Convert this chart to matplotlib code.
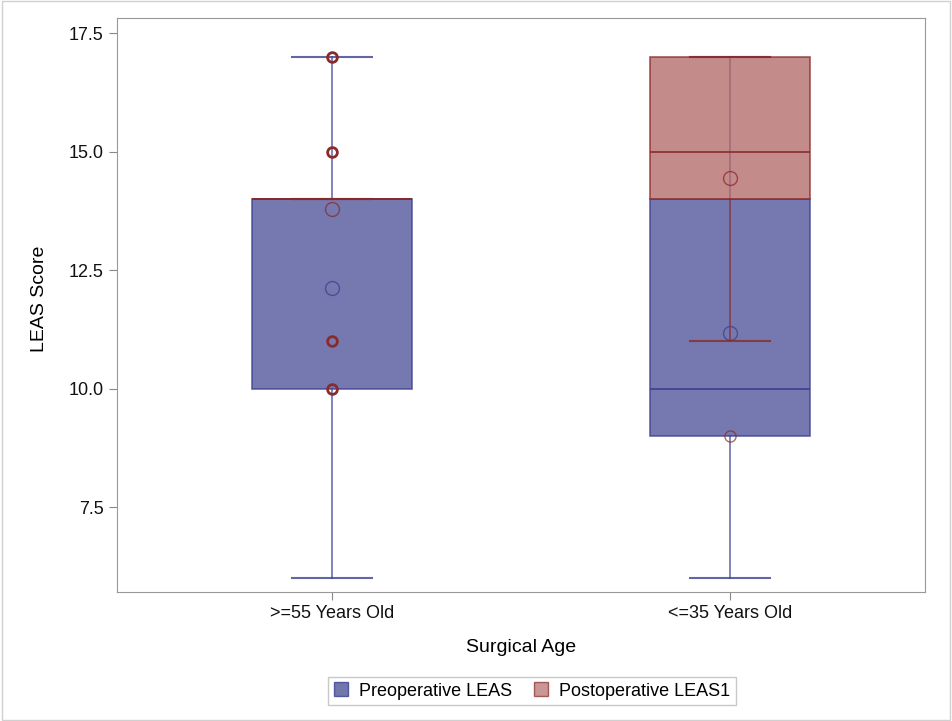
import matplotlib.pyplot as plt
from matplotlib.patches import Patch, Rectangle

plt.rcParams['font.family'] = ['Liberation Sans', 'DejaVu Sans']

groups = ['>=55 Years Old', '<=35 Years Old']

# preoperative LEAS box stats per group
pre_q1 = [10, 9]
pre_med = [14, 10]
pre_q3 = [14, 14]
pre_lo = [6, 6]
pre_hi = [17, 17]
pre_mean = [12.12, 11.18]
pre_fliers = [[], []]

# postoperative LEAS1 box stats per group
post_q1 = [14, 14]
post_med = [14, 15]
post_q3 = [14, 17]
post_lo = [14, 11]
post_hi = [14, 17]
post_mean = [13.8, 14.45]
post_fliers = [[17, 15, 11, 10], [9]]

blue_fill = '#4e5499'
blue_edge = '#3a4091'
red_fill = '#b46a6a'
red_edge = '#8a2a2a'

fig = plt.figure(figsize=(9.52, 7.21), dpi=100)
fig.patches.append(Rectangle((0.002, 0.002), 0.996, 0.996, transform=fig.transFigure,
                             fill=False, edgecolor='#d0d0d0', lw=1))
ax = fig.add_axes([117 / 952, 1 - 592 / 721, 808 / 952, 574 / 721])


def make_stats(q1, med, q3, lo, hi, mean, fl):
    out = []
    for i in range(len(groups)):
        out.append(dict(q1=q1[i], med=med[i], q3=q3[i], whislo=lo[i], whishi=hi[i],
                        mean=mean[i], fliers=fl[i]))
    return out


pos = [0, 1]
res = []
for stats, fc, ec, z in [
    (make_stats(pre_q1, pre_med, pre_q3, pre_lo, pre_hi, pre_mean, pre_fliers), blue_fill, blue_edge, 2),
    (make_stats(post_q1, post_med, post_q3, post_lo, post_hi, post_mean, post_fliers), red_fill, red_edge, 3),
]:
    r = ax.bxp(stats, positions=pos, widths=0.4, patch_artist=True, showmeans=True,
               showfliers=True, manage_ticks=False, zorder=z,
               boxprops=dict(facecolor=fc, edgecolor=ec, alpha=0.78, lw=1.2),
               medianprops=dict(color=ec, lw=1.2),
               whiskerprops=dict(color=ec, lw=1.2, alpha=0.75),
               capprops=dict(color=ec, lw=1.5, alpha=0.8),
               capwidths=0.2,
               meanprops=dict(marker='o', markerfacecolor='none', markeredgecolor=ec,
                              markersize=10, markeredgewidth=1.0, alpha=0.75),
               flierprops=dict(marker='o', markerfacecolor='none', markeredgecolor=ec,
                               markersize=7, markeredgewidth=2.0))
    res.append(r)

# single outlier in the younger group is a plain thin circle
res[1]['fliers'][1].set_markeredgewidth(1.0)
res[1]['fliers'][1].set_markersize(8)
res[1]['fliers'][1].set_alpha(0.7)

ax.set_xlim(-0.54, 1.49)
ax.set_ylim(5.71, 17.82)
ax.set_yticks([7.5, 10.0, 12.5, 15.0, 17.5])
ax.set_yticklabels(['7.5', '10.0', '12.5', '15.0', '17.5'])
ax.set_xticks(pos)
ax.set_xticklabels(groups)
ax.tick_params(colors='#888888', labelcolor='#111111', labelsize=13, length=6)
for s in ax.spines.values():
    s.set_color('#999999')
ax.set_xlabel('Surgical Age', fontsize=14, labelpad=12)
ax.set_ylabel('LEAS Score', fontsize=14)
ax.yaxis.set_label_coords(-69 / 808, 0.51)

handles = [Patch(facecolor=blue_fill, edgecolor=blue_edge, alpha=0.8, label='Preoperative LEAS'),
           Patch(facecolor=red_fill, edgecolor=red_edge, alpha=0.7, label='Postoperative LEAS1')]
fig.legend(handles=handles, loc='center', bbox_to_anchor=(532 / 952, 1 - 691 / 721), ncol=2,
           fontsize=13, frameon=True, fancybox=False, edgecolor='#bbbbbb',
           handlelength=0.8, handleheight=0.8, handletextpad=0.6, columnspacing=1.2,
           borderpad=0.3)

fig.savefig('out.png', dpi=100)
